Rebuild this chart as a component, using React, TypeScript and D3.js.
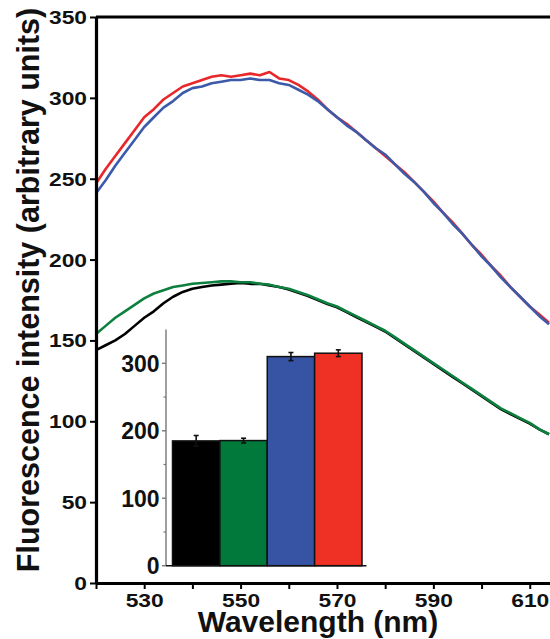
import React, { useEffect, useRef } from 'react';
import * as d3 from 'd3';

// spectra, sampled every 2 nm
const wavelengths = [
  520, 522, 524, 526, 528, 530, 532, 534, 536, 538, 540, 542, 544, 546, 548, 550,
  552, 554, 556, 558, 560, 562, 564, 566, 568, 570, 572, 574, 576, 578, 580, 582,
  584, 586, 588, 590, 592, 594, 596, 598, 600, 602, 604, 606, 608, 610, 612, 614,
];
const redSeries = [
  247, 256, 264, 272, 280, 288, 293, 299, 303, 307, 309, 311, 313, 314, 313, 314,
  315, 314, 316, 312, 311, 308, 304, 299, 293, 288, 284, 279, 274, 269, 264, 259,
  254, 248, 242, 236, 229, 223, 216, 209, 203, 196, 190, 183, 177, 171, 166, 161,
];
const blueSeries = [
  241, 249, 258, 266, 274, 282, 288, 294, 298, 303, 306, 307, 309, 310, 311, 311,
  312, 311, 311, 309, 308, 305, 302, 298, 293, 288, 283, 279, 274, 269, 265, 259,
  253, 248, 242, 235, 229, 222, 216, 209, 202, 196, 189, 183, 177, 171, 165, 160,
];
const greenSeries = [
  154, 159, 164, 168, 172, 176, 179, 181, 183, 184, 185, 185.5, 186, 186.5, 186.5, 186,
  186, 185, 184.5, 183, 182, 180, 178, 175.5, 173, 171, 168, 165, 162, 159, 156, 152,
  148, 144, 140, 136, 132, 128, 124, 120, 116, 112, 108, 105, 102, 99, 95, 92,
];
const blackSeries = [
  144, 147, 150, 154, 159, 164, 168, 173, 177, 180, 182, 183, 184, 184.5, 185, 185.5,
  185, 185, 184, 183, 181.5, 179.5, 177.5, 175, 172.5, 170.5, 167.5, 164.5, 161.5, 158.5, 155.5, 151.5,
  147.5, 143.5, 139.5, 135.5, 131.5, 127.5, 123.5, 119.5, 115.5, 111.5, 107.5, 104.5, 101.5, 98.5, 95, 92,
];

// inset bars
const barNames = ['black', 'green', 'blue', 'red'];
const barValues = [185, 185.5, 310, 315];
const barErrors = [8, 3.5, 6, 5];

// ticks
const yTicks = [0, 50, 100, 150, 200, 250, 300, 350];
const xTicks = [520, 530, 540, 550, 560, 570, 580, 590, 600, 610];
const xLabels = [530, 550, 570, 590, 610];
const insetMajor = [0, 100, 200, 300];
const insetMinor = [50, 150, 250];

const lineColors = { red: '#e8272a', blue: '#3b5aa9', black: '#000000', green: '#0d8040' };
const barColors = { black: '#000000', green: '#00793a', blue: '#3753a4', red: '#ee3124' };

const FONT = '"Liberation Sans", Arial, sans-serif';

export default function App() {
  const ref = useRef<SVGSVGElement>(null);

  useEffect(() => {
    const svg = d3.select(ref.current);
    svg.selectAll('*').remove();

    const x = d3.scaleLinear().domain([520, 614.2]).range([96, 550]);
    const y = d3.scaleLinear().domain([0, 350]).range([583, 17]);

    // frame top line
    svg.append('line')
      .attr('x1', 96).attr('x2', 550)
      .attr('y1', y(350)).attr('y2', y(350))
      .attr('stroke', '#000').attr('stroke-width', 3);

    // curves
    const line = (vals: number[]) =>
      d3.line<number>()
        .x((_, i) => x(wavelengths[i]))
        .y(d => y(d))(vals);

    const series: [number[], string][] = [
      [redSeries, lineColors.red],
      [blueSeries, lineColors.blue],
      [blackSeries, lineColors.black],
      [greenSeries, lineColors.green],
    ];
    series.forEach(([vals, col]) => {
      svg.append('path')
        .attr('d', line(vals))
        .attr('fill', 'none')
        .attr('stroke', col)
        .attr('stroke-width', 2.6)
        .attr('stroke-linejoin', 'round');
    });

    // main axes
    const yAxis = d3.axisLeft(y).tickValues(yTicks).tickSize(6).tickSizeOuter(0);
    const gy = svg.append('g').attr('transform', 'translate(96,0)').call(yAxis);
    gy.select('.domain').attr('stroke-width', 3.2);
    gy.selectAll('.tick line').attr('stroke-width', 2);
    gy.selectAll('.tick text')
      .attr('x', -7.5)
      .attr('dy', '0.34em')
      .attr('transform', 'scale(1.2,1)')
      .attr('font-size', 19)
      .attr('font-weight', 'bold')
      .attr('font-family', FONT)
      .attr('fill', '#111');

    const xAxis = d3.axisBottom(x)
      .tickValues(xTicks)
      .tickSize(6)
      .tickSizeOuter(0)
      .tickFormat(d => String(d));
    const gx = svg.append('g').attr('transform', 'translate(0,583)').call(xAxis);
    gx.select('.domain').attr('stroke-width', 3.2);
    gx.selectAll('.tick line').attr('stroke-width', 2);
    // only every other tick carries a label
    gx.selectAll<SVGTextElement, number>('.tick text')
      .filter(d => !xLabels.includes(d))
      .remove();
    gx.selectAll('.tick text')
      .attr('x', 0)
      .attr('y', 24)
      .attr('dy', 0)
      .attr('transform', 'scale(1.2,1)')
      .attr('font-size', 19)
      .attr('font-weight', 'bold')
      .attr('font-family', FONT)
      .attr('fill', '#111');

    // axis titles
    svg.append('text')
      .attr('transform', 'translate(38.5,290) rotate(-90)')
      .attr('text-anchor', 'middle')
      .attr('font-size', 30.5)
      .attr('font-weight', 'bold')
      .attr('font-family', FONT)
      .attr('fill', '#111')
      .text('Fluorescence intensity (arbitrary units)');

    svg.append('text')
      .attr('x', 318).attr('y', 632)
      .attr('text-anchor', 'middle')
      .attr('font-size', 30)
      .attr('font-weight', 'bold')
      .attr('font-family', FONT)
      .attr('fill', '#111')
      .text('Wavelength (nm)');

    // inset bar chart
    const iy = d3.scaleLinear().domain([0, 350]).range([565.7, 329.6]);
    const ix = d3.scaleBand<string>().domain(barNames).range([172.5, 362]).padding(0);

    const inset = svg.append('g');
    inset.selectAll('rect')
      .data(barNames)
      .enter()
      .append('rect')
      .attr('x', d => ix(d)!)
      .attr('width', ix.bandwidth())
      .attr('y', (_, i) => iy(barValues[i]))
      .attr('height', (_, i) => iy(0) - iy(barValues[i]))
      .attr('fill', d => (barColors as any)[d])
      .attr('stroke', '#111')
      .attr('stroke-width', 1.5);

    // error bars
    barNames.forEach((d, i) => {
      const cx = ix(d)! + ix.bandwidth() / 2;
      const g = inset.append('g').attr('stroke', '#111').attr('stroke-width', 1.6);
      g.append('line').attr('x1', cx).attr('x2', cx)
        .attr('y1', iy(barValues[i] - barErrors[i])).attr('y2', iy(barValues[i] + barErrors[i]));
      g.append('line').attr('x1', cx - 2.5).attr('x2', cx + 2.5)
        .attr('y1', iy(barValues[i] + barErrors[i])).attr('y2', iy(barValues[i] + barErrors[i]));
      g.append('line').attr('x1', cx - 2.5).attr('x2', cx + 2.5)
        .attr('y1', iy(barValues[i] - barErrors[i])).attr('y2', iy(barValues[i] - barErrors[i]));
    });

    // inset axes
    inset.append('line')
      .attr('x1', 166).attr('x2', 166)
      .attr('y1', iy(350)).attr('y2', iy(0))
      .attr('stroke', '#777').attr('stroke-width', 1.4);
    inset.append('line')
      .attr('x1', 166).attr('x2', 366.5)
      .attr('y1', iy(0)).attr('y2', iy(0))
      .attr('stroke', '#111').attr('stroke-width', 1.6);

    insetMajor.forEach(v => {
      inset.append('line')
        .attr('x1', 162).attr('x2', 166)
        .attr('y1', iy(v)).attr('y2', iy(v))
        .attr('stroke', '#777').attr('stroke-width', 1.4);
      inset.append('text')
        .attr('x', 159.5).attr('y', iy(v))
        .attr('dy', '0.36em')
        .attr('text-anchor', 'end')
        .attr('font-size', 23)
        .attr('font-weight', 'bold')
        .attr('font-family', FONT)
        .attr('fill', '#111')
        .text(v);
    });
    insetMinor.forEach(v => {
      inset.append('line')
        .attr('x1', 163.5).attr('x2', 166)
        .attr('y1', iy(v)).attr('y2', iy(v))
        .attr('stroke', '#777').attr('stroke-width', 1.2);
    });
  }, []);

  return (
    <svg
      ref={ref}
      width={550}
      height={639}
      style={{ position: 'absolute', left: 0, top: 0, background: '#fff' }}
    />
  );
}
